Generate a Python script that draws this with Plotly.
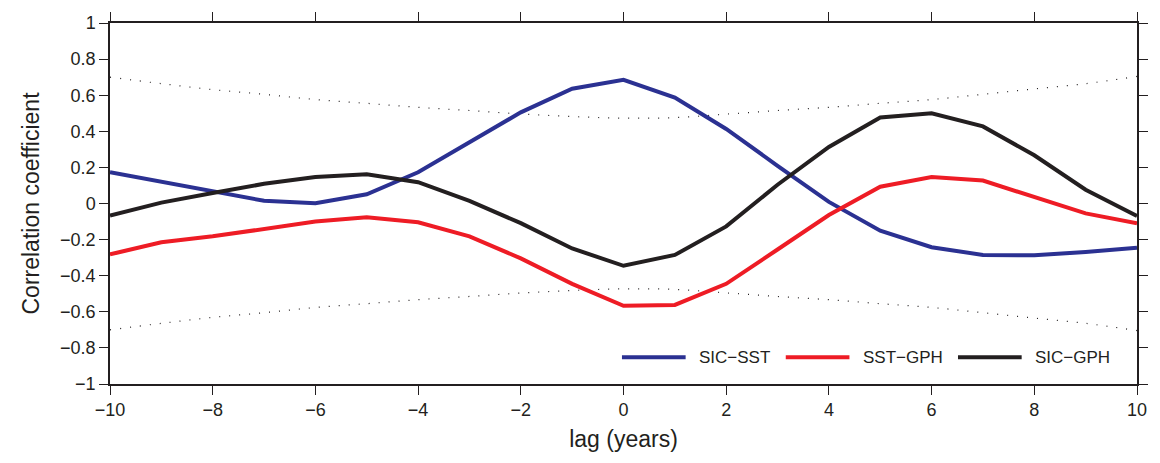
import plotly.graph_objects as go

lags = list(range(-10, 11))
sic_sst = [0.173, 0.12, 0.067, 0.015, 0.002, 0.051, 0.173, 0.336, 0.505, 0.636, 0.685,
           0.587, 0.413, 0.209, 0.009, -0.151, -0.242, -0.285, -0.287, -0.269, -0.245]
sst_gph = [-0.282, -0.215, -0.182, -0.14, -0.1, -0.076, -0.104, -0.182, -0.304, -0.445, -0.567,
           -0.562, -0.445, -0.255, -0.064, 0.093, 0.147, 0.127, 0.036, -0.055, -0.109]
sic_gph = [-0.067, 0.005, 0.058, 0.109, 0.147, 0.162, 0.118, 0.014, -0.109, -0.249, -0.345,
           -0.285, -0.127, 0.104, 0.313, 0.476, 0.5, 0.427, 0.267, 0.076, -0.069]
sig_upper = [0.70, 0.664, 0.631, 0.605, 0.576, 0.555, 0.533, 0.515, 0.496, 0.482, 0.473,
             0.476, 0.495, 0.515, 0.533, 0.555, 0.576, 0.605, 0.635, 0.664, 0.704]
sig_lower = [-v for v in sig_upper]

series_names = ["SIC\u2212SST", "SST\u2212GPH", "SIC\u2212GPH"]
series_colors = ["#2B3192", "#EE1C25", "#231F20"]

font = "Liberation Sans, Arial, sans-serif"
ink = "#231F20"

fig = go.Figure()
for sig in (sig_upper, sig_lower):
    fig.add_trace(go.Scatter(x=lags, y=sig, mode="lines", showlegend=False,
                             line=dict(color=ink, width=1.2, dash="1px,9px", shape="spline")))
for name, vals, col in zip(series_names, [sic_sst, sst_gph, sic_gph], series_colors):
    fig.add_trace(go.Scatter(x=lags, y=vals, mode="lines", name=name, showlegend=False,
                             line=dict(color=col, width=4)))

# custom legend (line samples + labels) placed inside the plot, bottom right
legend_x0 = [0.4985, 0.658, 0.8257]
legend_len = 0.062
legend_y = 0.074
for name, col, x0 in zip(series_names, series_colors, legend_x0):
    fig.add_shape(type="line", xref="paper", yref="paper",
                  x0=x0, x1=x0 + legend_len, y0=legend_y, y1=legend_y,
                  line=dict(color=col, width=4))
    fig.add_annotation(xref="paper", yref="paper", x=x0 + legend_len + 0.011, y=legend_y,
                       xanchor="left", yanchor="middle", showarrow=False, text=name,
                       font=dict(family=font, size=17, color=ink))

axis_common = dict(showline=True, linecolor=ink, linewidth=1.5, mirror="ticks",
                   ticks="outside", ticklen=9, tickwidth=1.2, tickcolor=ink,
                   showgrid=False, zeroline=False,
                   tickfont=dict(family=font, size=18, color=ink))
fig.update_xaxes(range=[-10, 10], dtick=2, tick0=-10,
                 title=dict(text="lag (years)", font=dict(family=font, size=23, color=ink), standoff=12),
                 **axis_common)
fig.update_yaxes(range=[-1, 1], dtick=0.2, tick0=-1, tickformat=".1~f",
                 title=dict(text="Correlation coefficient", font=dict(family=font, size=23, color=ink), standoff=14),
                 **axis_common)
fig.update_layout(
    width=1160, height=463,
    margin=dict(l=110, r=23, t=18, b=79),
    paper_bgcolor="white", plot_bgcolor="white",
    showlegend=False,
)
fig.write_html("out.html")
